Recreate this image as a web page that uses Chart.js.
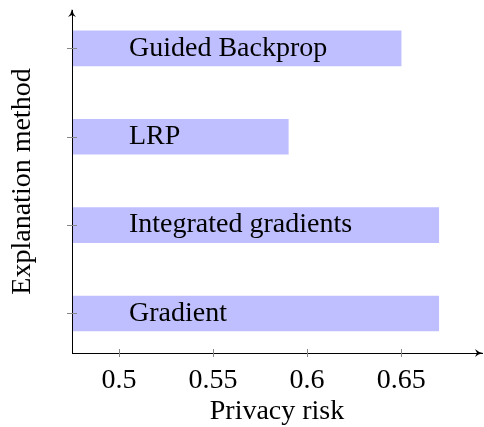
<!DOCTYPE html>
<html>
<head>
<meta charset="utf-8">
<script src="https://cdn.jsdelivr.net/npm/chart.js@4.4.1/dist/chart.umd.min.js"></script>
<style>
  html, body { margin: 0; padding: 0; background: #fff; }
  #wrap { width: 484px; height: 427px; }
</style>
</head>
<body>
<div id="wrap"><canvas id="chart" width="484" height="427"></canvas></div>
<script>
// ---- data ----
const methods = ["Gradient", "Integrated gradients", "LRP", "Guided Backprop"];
const privacyRisk = [0.67, 0.67, 0.59, 0.65];
const xTicks = [0.5, 0.55, 0.6, 0.65];

const SERIF = "'Liberation Serif', 'Times New Roman', serif";

// tick marks crossing the axes + arrow heads
const axisDeco = {
  id: "axisDeco",
  afterDraw(chart) {
    const ctx = chart.ctx;
    const area = chart.chartArea;
    const xs = chart.scales.x;
    const ys = chart.scales.y;
    ctx.save();
    ctx.strokeStyle = "#888";
    ctx.lineWidth = 1;
    xTicks.forEach((v) => {
      const px = Math.round(xs.getPixelForValue(v)) + 0.5;
      ctx.beginPath();
      ctx.moveTo(px, area.bottom - 4);
      ctx.lineTo(px, area.bottom + 4);
      ctx.stroke();
    });
    methods.forEach((m, i) => {
      const py = Math.round(ys.getPixelForValue(i)) + 0.5;
      ctx.beginPath();
      ctx.moveTo(area.left - 5, py);
      ctx.lineTo(area.left + 5, py);
      ctx.stroke();
    });
    // arrows
    ctx.fillStyle = "#000";
    const l = area.left, b = area.bottom;
    ctx.beginPath();
    ctx.moveTo(l, area.top - 1);
    ctx.quadraticCurveTo(l + 1, area.top + 4, l + 4, area.top + 7);
    ctx.lineTo(l, area.top + 5);
    ctx.lineTo(l - 4, area.top + 7);
    ctx.quadraticCurveTo(l - 1, area.top + 4, l, area.top - 1);
    ctx.fill();
    const r = area.right;
    ctx.beginPath();
    ctx.moveTo(r + 1, b);
    ctx.quadraticCurveTo(r - 4, b + 1, r - 7, b + 4);
    ctx.lineTo(r - 5, b);
    ctx.lineTo(r - 7, b - 4);
    ctx.quadraticCurveTo(r - 4, b - 1, r + 1, b);
    ctx.fill();
    ctx.restore();
  },
};

const ctx = document.getElementById("chart").getContext("2d");
new Chart(ctx, {
  type: "bar",
  data: {
    datasets: [
      {
        data: methods.map((m, i) => ({ x: privacyRisk[i], y: i })),
        backgroundColor: "rgb(191,191,255)",
        borderWidth: 0,
        barThickness: 35,
      },
    ],
  },
  options: {
    indexAxis: "y",
    responsive: false,
    animation: false,
    layout: { padding: { top: 10, right: 2, bottom: 0, left: 0 } },
    plugins: { legend: { display: false }, tooltip: { enabled: false } },
    scales: {
      x: {
        type: "linear",
        min: 0.475,
        max: 0.693,
        offset: false,
        afterBuildTicks: (s) => { s.ticks = xTicks.map((v) => ({ value: v })); },
        afterFit: (s) => { s.height = 74; s.paddingLeft = 0; s.paddingRight = 0; },
        grid: { display: false },
        border: { display: true, color: "#000", width: 1, z: 1 },
        ticks: {
          color: "#000",
          padding: 3,
          maxRotation: 0,
          font: { family: SERIF, size: 28 },
          callback: (v) => String(v),
        },
        title: {
          display: true,
          text: "Privacy risk",
          color: "#000",
          padding: { top: 0, bottom: 0 },
          font: { family: SERIF, size: 28, lineHeight: 1.1 },
        },
      },
      y: {
        type: "linear",
        min: -0.447,
        max: 3.434,
        offset: false,
        afterBuildTicks: (s) => { s.ticks = methods.map((m, i) => ({ value: i })); },
        afterFit: (s) => { s.width = 72; s.paddingTop = 0; s.paddingBottom = 0; },
        grid: { display: false, offset: false },
        border: { display: true, color: "#000", width: 1, z: 1 },
        ticks: {
          mirror: true,
          z: 1,
          padding: 57,
          color: "#000",
          font: { family: SERIF, size: 28 },
          callback: (v) => methods[v],
        },
        title: {
          display: true,
          text: "Explanation method",
          color: "#000",
          padding: { top: 6, bottom: 0 },
          font: { family: SERIF, size: 28 },
        },
      },
    },
  },
  plugins: [axisDeco],
});
</script>
</body>
</html>
